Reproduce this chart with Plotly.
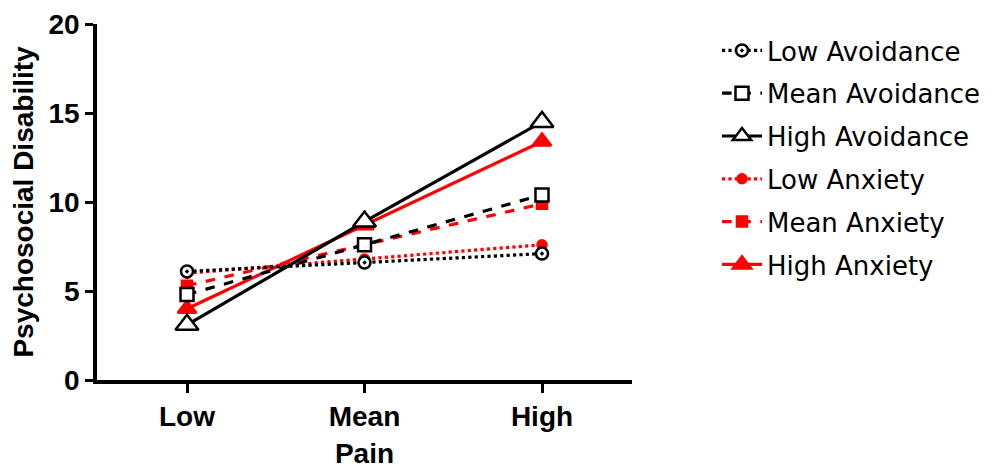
import plotly.graph_objects as go

categories = ["Low", "Mean", "High"]
low_avoidance = [6.1, 6.6, 7.1]
mean_avoidance = [4.8, 7.6, 10.4]
high_avoidance = [3.1, 8.9, 14.5]
low_anxiety = [6.0, 6.8, 7.6]
mean_anxiety = [5.3, 7.6, 9.9]
high_anxiety = [4.0, 8.7, 13.4]
y_ticks = [0, 5, 10, 15, 20]

xi = list(range(len(categories)))

fig = go.Figure()

def add(name, y, color, fill, dash, symbol, size, rank, line_w=3.2):
    fig.add_trace(go.Scatter(
        x=xi, y=y, name=name, mode="lines+markers",
        line=dict(color=color, width=line_w, dash=dash),
        marker=dict(symbol=symbol, size=size, color=fill,
                    line=dict(color=color, width=2.5)),
        legendgroup=name, legendrank=rank,
    ))

RED = "#ff0000"
add("Low Anxiety", low_anxiety, RED, RED, "dot", "circle", 9, 4)
add("Mean Anxiety", mean_anxiety, RED, RED, "dash", "square", 10, 5)
add("High Anxiety", high_anxiety, RED, RED, "solid", "triangle-up", 16, 6)
add("Low Avoidance", low_avoidance, "black", "white", "dot", "circle-dot", 12, 1)
add("Mean Avoidance", mean_avoidance, "black", "white", "dash", "square", 13, 2)
add("High Avoidance", high_avoidance, "black", "white", "solid", "triangle-up", 20, 3)

BOLD = dict(family="Liberation Sans", size=28, weight="bold", color="black")

fig.update_layout(
    width=997, height=469,
    margin=dict(l=97, r=365, t=24, b=89),
    plot_bgcolor="white", paper_bgcolor="white",
    font=dict(family="Liberation Sans", color="black"),
    showlegend=True,
    legend=dict(x=717/997, xanchor="left", xref="container",
                y=1 - 27/469, yanchor="top", yref="container",
                font=dict(family="DejaVu Sans", size=26, color="black"),
                tracegroupgap=6, itemwidth=40, traceorder="grouped",
                maxheight=1.0),
    xaxis=dict(
        range=[-0.507, 2.507], tickvals=xi, ticktext=categories,
        showline=True, linecolor="black", linewidth=3.5,
        ticks="outside", ticklen=9, tickwidth=3, tickcolor="black",
        showgrid=False, zeroline=False, automargin=False,
        tickfont=BOLD,
        title=dict(text="Pain", font=BOLD, standoff=16),
    ),
    yaxis=dict(
        range=[0, 20], tickvals=y_ticks,
        showline=True, linecolor="black", linewidth=3.5,
        ticks="outside", ticklen=8, tickwidth=3, tickcolor="black",
        showgrid=False, zeroline=False, automargin=False,
        tickfont=BOLD,
        title=dict(text="Psychosocial Disability", font=BOLD, standoff=8),
    ),
)

fig.write_html("out.html")
